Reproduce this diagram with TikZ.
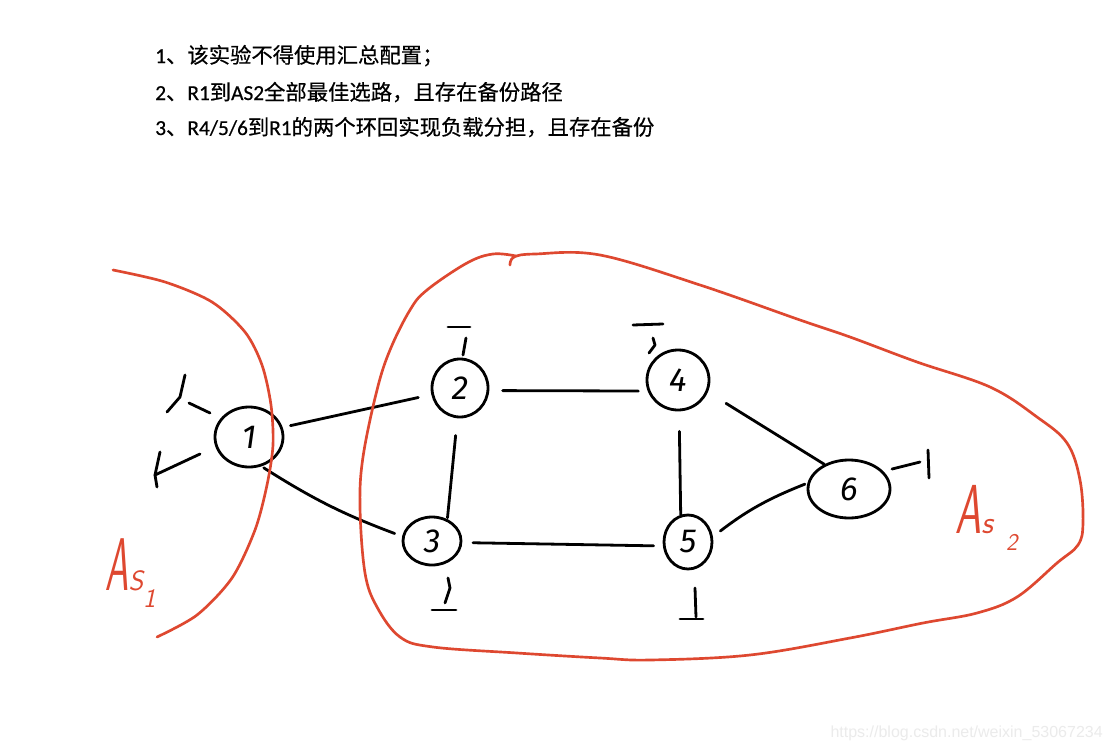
\documentclass[tikz,border=0pt]{standalone}
\usepackage{fontspec}
\newfontfamily\cjk[FakeBold=0.5]{Noto Sans CJK SC}
\newfontfamily\carl[FakeBold=0.5]{Carlito}
\newfontfamily\wmfont{Liberation Sans}
\newfontfamily\hand{Fira Sans}
\usetikzlibrary{shapes.geometric}
\definecolor{asred}{RGB}{222,72,48}
\begin{document}
\begin{tikzpicture}[x=0.75pt,y=-0.75pt,
  rtr/.style={draw,ellipse,line width=2.1pt,inner sep=0pt,font=\hand\itshape\fontsize{25}{25}\selectfont},
  link/.style={line width=2.1pt,line cap=round},
  lbstroke/.style={line width=2.1pt,line cap=round,line join=round},
  asline/.style={asred,line width=2pt,line cap=round,line join=round},
  txtline/.style={anchor=base west,inner sep=0pt,font=\cjk\fontsize{16}{20}\selectfont},
  aslabel/.style={text=asred,inner sep=0pt,font=\sffamily\slshape}
]
\fill[white] (0,0) rectangle (1114,750);
\useasboundingbox (0,0) rectangle (1114,750);

% requirements text
\node[txtline] (t1) at (155,63) {{\carl 1}、该实验不得使用汇总配置；};
\node[txtline] (t2) at (155,100) {{\carl 2}、{\carl R1}到{\carl AS2}全部最佳选路，且存在备份路径};
\node[txtline] (t3) at (155,135) {{\carl 3}、{\carl R4/5/6}到{\carl R1}的两个环回实现负载分担，且存在备份};

% routers
\node[rtr,minimum width=51pt,minimum height=45pt] (r1) at (249,437) {1};
\node[rtr,minimum width=42pt,minimum height=43.5pt] (r2) at (460,388) {2};
\node[rtr,minimum width=46.5pt,minimum height=45pt] (r4) at (678,380) {4};
\node[rtr,minimum width=61.5pt,minimum height=43.5pt] (r6) at (849,489) {6};
\node[rtr,minimum width=43.5pt,minimum height=36pt] (r3) at (432,541) {3};
\node[rtr,minimum width=36pt,minimum height=40.5pt] (r5) at (688,542) {5};

% links
\draw[link,shorten <=6pt,shorten >=10pt] (r1.16) -- (r2.193);
\draw[link,shorten <=2pt,shorten >=6pt] (r1.-67) to[bend right=6] (r3.171);
\draw[link,shorten <=13pt,shorten >=1pt] (r2.-95) -- (r3.55);
\draw[link,shorten <=10pt,shorten >=7pt] (r2.-5) -- (r4.200);
\draw[link,shorten <=8pt,shorten >=7pt] (r3.-3) -- (r5.189);
\draw[link,shorten <=15pt,shorten >=0pt] (r4.-88) -- (r5.105);
\draw[link,shorten <=16pt] (r4.-22) -- (r6.135);
\draw[link,shorten <=7pt,shorten >=2pt] (r5.12) to[bend left=8] (r6.172);

% loopback marks
\draw[lbstroke] (185,375) -- (180,397) -- (167,412);
\draw[lbstroke] (189,403) -- (210,413);
\draw[lbstroke] (160,452) -- (155,475) -- (157,487);
\draw[lbstroke] (155,475) -- (200,454);
\draw[lbstroke] (448,327) -- (470,327);
\draw[lbstroke] (466,338) -- (463,355);
\draw[lbstroke] (633,325) -- (663,324);
\draw[lbstroke] (653,338) -- (655,345) -- (649,353);
\draw[lbstroke] (892,469) -- (920,462);
\draw[lbstroke] (928,450) -- (929,478);
\draw[lbstroke] (448,578) -- (450,588) -- (445,603);
\draw[lbstroke] (432,610) -- (456,610);
\draw[lbstroke] (695,588) -- (696,617);
\draw[lbstroke] (680,619) -- (703,619);

% AS boundaries
\draw[asline] plot[smooth] coordinates {(113,270) (165,282) (212,302) (245,332) (262,365) (271,405) (273,445) (267,485) (255,530) (232,578) (197,615) (157,637)};
\draw[asline] plot[smooth,tension=0.6] coordinates {(510,265) (514,257) (535,254) (600,255) (700,285) (800,320) (850,337) (917,362) (990,387) (1037,417) (1067,443) (1080,480) (1083,523) (1078,545) (1057,563) (1017,597) (977,613) (923,623) (850,638) (750,655) (650,660) (600,658) (517,653) (433,647) (400,637) (377,607) (365,573) (360,507) (363,457) (377,390) (390,350) (410,310) (427,290) (467,263) (493,254) (516,256)};

% AS labels
\node[aslabel,anchor=base west] (as2) at (955,533) {\scalebox{0.6}[1]{\fontsize{52}{52}\selectfont A}\fontsize{24}{24}\selectfont s\hspace{10pt}\raisebox{-13pt}{\fontsize{18}{18}\selectfont 2}};
\node[aslabel,anchor=base west] (as1) at (105,590) {\scalebox{0.5}[1]{\fontsize{56}{56}\selectfont A}\fontsize{21}{21}\selectfont S\raisebox{-13pt}{\fontsize{20}{20}\selectfont 1}};

% watermark
\node[anchor=base east,inner sep=0pt,text=black!8,font=\wmfont\fontsize{12}{14}\selectfont] (wm) at (1103,737) {https://blog.csdn.net/weixin\_53067234};
\end{tikzpicture}
\end{document}
